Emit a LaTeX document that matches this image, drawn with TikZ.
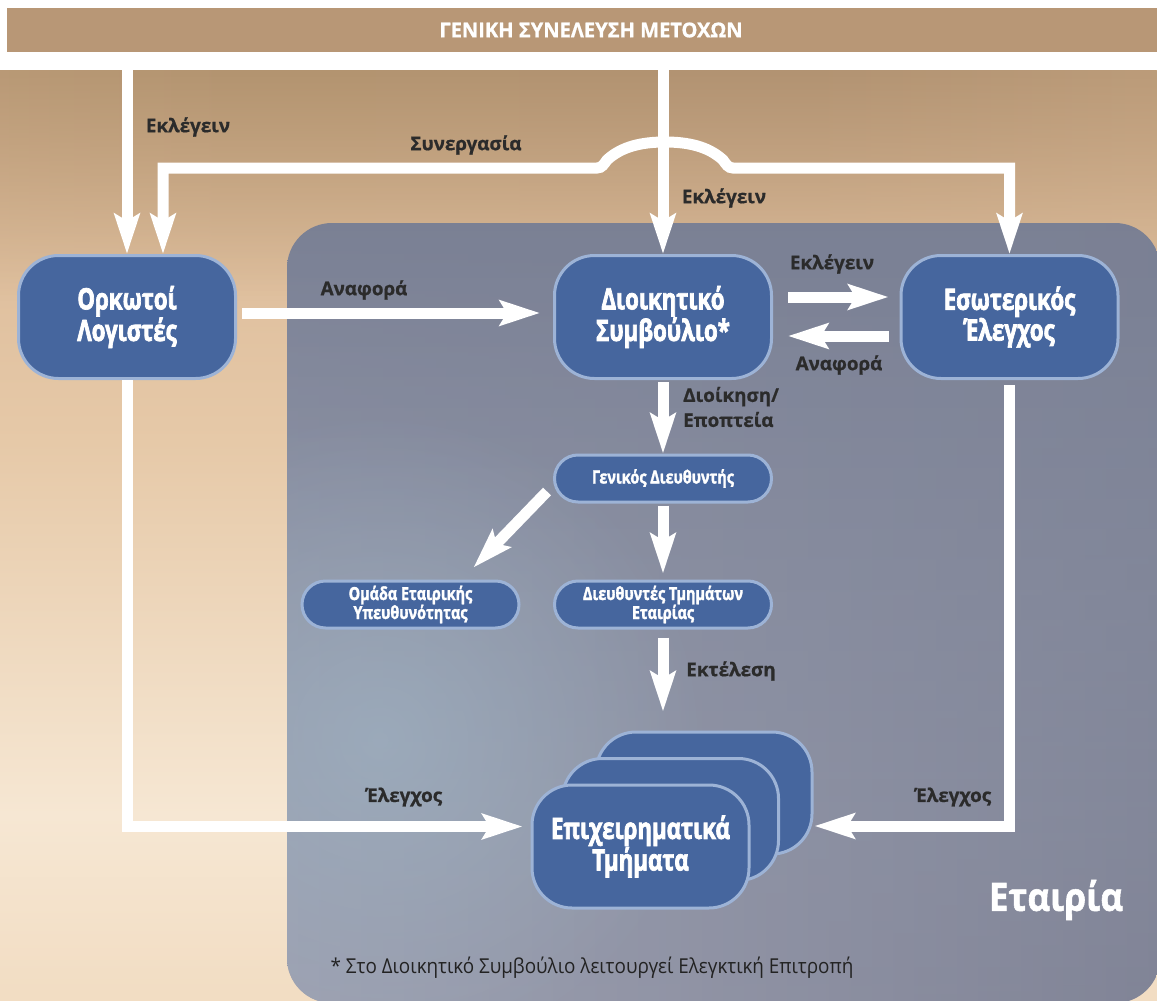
\documentclass[tikz,border=0pt]{standalone}
\usepackage{fontspec}
\setmainfont{Open Sans}[BoldFeatures={FakeBold=0.8}]
\newfontfamily\condfont{Open Sans}[FakeStretch=0.755,BoldFeatures={FakeBold=2.4}]
\newfontfamily\smallcond{Open Sans}[FakeStretch=0.8,BoldFeatures={FakeBold=1.8}]
\newfontfamily\midfont{Open Sans}[FakeStretch=0.9,BoldFeatures={FakeBold=1.4}]
\newfontfamily\headfont{Open Sans}[FakeStretch=0.98,BoldFeatures={FakeBold=0.8}]
\newfontfamily\footfont{Open Sans}[FakeStretch=0.92]
\usetikzlibrary{arrows.meta,calc,fadings}
\definecolor{nodeblue}{HTML}{46669E}
\definecolor{nodeedge}{HTML}{9DB3D6}
\definecolor{labelgray}{HTML}{2B2B2B}
\definecolor{footgray}{HTML}{222222}
\definecolor{bandtan}{HTML}{B89776}
\definecolor{bga}{HTML}{E3C19C}
\definecolor{bgb}{HTML}{EDD2B2}
\definecolor{bgc}{HTML}{F6E7D3}
\definecolor{bgd}{HTML}{E6C9A8}
\definecolor{bge}{HTML}{D3AF8D}
\definecolor{bgf}{HTML}{C2A07E}
\definecolor{tpa}{HTML}{C7A684}
\definecolor{tpb}{HTML}{B39470}
\definecolor{tpc}{HTML}{B29372}
\definecolor{tpd}{HTML}{CBAA86}
\definecolor{coa}{HTML}{9896A6}
\definecolor{cob}{HTML}{8E94A6}
\definecolor{coc}{HTML}{7C8296}
\definecolor{cod}{HTML}{72788B}
\definecolor{covl}{HTML}{A3A6B6}
\definecolor{covr}{HTML}{7A7D90}
\definecolor{blueblob}{HTML}{9FB2C2}
\tikzfading[name=blob, inner color=transparent!15, outer color=transparent!100]
\pgfdeclareverticalshading{bgvert}{100bp}{
  color(0bp)=(bga);
  color(15bp)=(bgb);
  color(35bp)=(bgc);
  color(55bp)=(bgd);
  color(80bp)=(bge);
  color(100bp)=(bgf)}
\pgfdeclarehorizontalshading{bgtop}{100bp}{
  color(0bp)=(tpa);
  color(35bp)=(tpb);
  color(60bp)=(tpc);
  color(100bp)=(tpd)}
\pgfdeclareverticalshading{company}{100bp}{
  color(0bp)=(coa);
  color(35bp)=(cob);
  color(70bp)=(coc);
  color(100bp)=(cod)}
\begin{document}
\begin{tikzpicture}[x=1pt,y=-1pt,
  bignode/.style={draw=nodeedge,line width=3pt,fill=nodeblue,rounded corners=40pt,
    minimum width=217pt,minimum height=123pt,text=white,align=center,inner sep=0pt,
    font=\condfont\bfseries\fontsize{29.5}{27}\selectfont},
  backnode/.style={draw=nodeedge,line width=3pt,fill=nodeblue,rounded corners=40pt,
    minimum width=216pt,minimum height=122pt,inner sep=0pt},
  smallnode/.style={draw=nodeedge,line width=3pt,fill=nodeblue,rounded corners=23.5pt,
    minimum width=217pt,minimum height=47pt,text=white,align=center,inner sep=0pt,
    font=\smallcond\bfseries\fontsize{18}{19}\selectfont},
  lbl/.style={text=labelgray,font=\bfseries\fontsize{18.8}{25}\selectfont,inner sep=0pt},
  bigtip/.tip={Stealth[length=40pt,width=25pt,inset=7pt]},
  flow/.style={draw=white,line width=11pt,-bigtip},
  flowboth/.style={draw=white,line width=11pt,bigtip-bigtip},
]
\useasboundingbox (0,0) rectangle (1157,1001);
\fill[white] (0,0) rectangle (1157,1001);
% background
\shade[shading=bgvert] (0,70) rectangle (1157,1001);
\shade[shading=bgtop,path fading=south] (0,70) rectangle (1157,300);
% company region
\shade[shading=company] (287,223) [rounded corners=45pt] -- (1160,223) -- (1160,1003) -- (287,1003) -- cycle;
\begin{scope}
  \clip (287,223) [rounded corners=45pt] -- (1160,223) -- (1160,1003) -- (287,1003) -- cycle;
  \shade[left color=covl,right color=covr,path fading=north,opacity=0.7] (287,223) rectangle (1160,1003);
  \fill[blueblob,path fading=blob,opacity=0.8] (380,740) circle (330);
\end{scope}
% band
\node[fill=bandtan,minimum width=1152pt,minimum height=44pt,inner sep=0pt] (band) at (583,30) {};
\node[text=white,inner sep=0pt,font=\headfont\bfseries\fontsize{20.5}{21}\selectfont] (bandtext) at (591,30) {ΓΕΝΙΚΗ ΣΥΝΕΛΕΥΣΗ ΜΕΤΟΧΩΝ};
% main nodes
\node[bignode] (ork) at (127,317) {Ορκωτοί\\Λογιστές};
\node[bignode] (dsb) at (663,317) {Διοικητικό\\Συμβούλιο*};
\node[bignode] (esw) at (1009.5,317) {Εσωτερικός\\Έλεγχος};
\node[smallnode] (gen) at (663,478.5) {Γενικός Διευθυντής};
\node[smallnode] (omada) at (410.5,604.5) {Ομάδα Εταιρικής\\Υπευθυνότητας};
\node[smallnode] (dieu) at (663,604.5) {Διευθυντές Τμημάτων\\Εταιρίας};
\node[backnode] (epixback) at (704,793) {};
\node[backnode] (epixmid) at (670.5,819.5) {};
\node[bignode] (epix) at (640.5,846.5) {Επιχειρηματικά\\Τμήματα};
% arrows
\draw[flow] (ork.north |- band.south) -- (ork.north);
\draw[flow] (dsb.north |- band.south) -- (dsb.north);
\draw[flowboth] ($(ork.north)+(36,0)$) |- (597,168)
  .. controls (602,168) and (604,164) .. (607,160)
  .. controls (622,146) and (643,142) .. (665,142)
  .. controls (687,142) and (708,146) .. (723,160)
  .. controls (726,164) and (728,168) .. (733,168)
  -| (esw.north);
\draw[flow,shorten <=5pt,shorten >=13pt] ([yshift=4pt]ork.east) -- ([yshift=4pt]dsb.west);
\draw[flow,shorten <=15pt,shorten >=11pt] ([yshift=20pt]dsb.east) -- ([yshift=20pt]esw.west);
\draw[flow,shorten <=11pt,shorten >=15pt] ([yshift=-19pt]esw.west) -- ([yshift=-19pt]dsb.east);
\draw[flow,shorten <=2pt] (dsb.south) -- (gen.north);
\draw[flow] ($(gen.west)+(-6,13)$) -- ($(omada.north east)+(-47,-12)$);
\draw[flow,shorten <=2pt,shorten >=6pt] (gen.south) -- (dieu.north);
\draw[flow,shorten <=8pt,shorten >=19pt] (dieu.south) -- (dieu.south |- epixback.north);
\draw[flow,shorten >=8pt] (ork.south) |- ([yshift=20pt]epix.west);
\draw[flow,shorten <=5pt] (esw.south) |- ($(epixback.east)+(1,33)$);
% labels
\node[lbl] (l1) at (188,127) {Εκλέγειν};
\node[lbl] (l2) at (466,145) {Συνεργασία};
\node[lbl] (l3) at (724,198) {Εκλέγειν};
\node[lbl] (l4) at (364,290) {Αναφορά};
\node[lbl] (l5) at (832,264) {Εκλέγειν};
\node[lbl] (l6) at (839,365) {Αναφορά};
\node[lbl,anchor=west,align=left] (l7) at (683,407) {Διοίκηση/\\Εποπτεία};
\node[lbl] (l8) at (731,671) {Εκτέλεση};
\node[lbl] (l9) at (404,797) {Έλεγχος};
\node[lbl] (l10) at (953,797) {Έλεγχος};
\node[text=white,inner sep=0pt,font=\midfont\bfseries\fontsize{39}{40}\selectfont] (etairia) at (1056,900) {Εταιρία};
\node[text=footgray,inner sep=0pt,font=\footfont\fontsize{20.5}{22}\selectfont] (foot) at (592,968) {* Στο Διοικητικό Συμβούλιο λειτουργεί Ελεγκτική Επιτροπή};
\end{tikzpicture}
\end{document}
